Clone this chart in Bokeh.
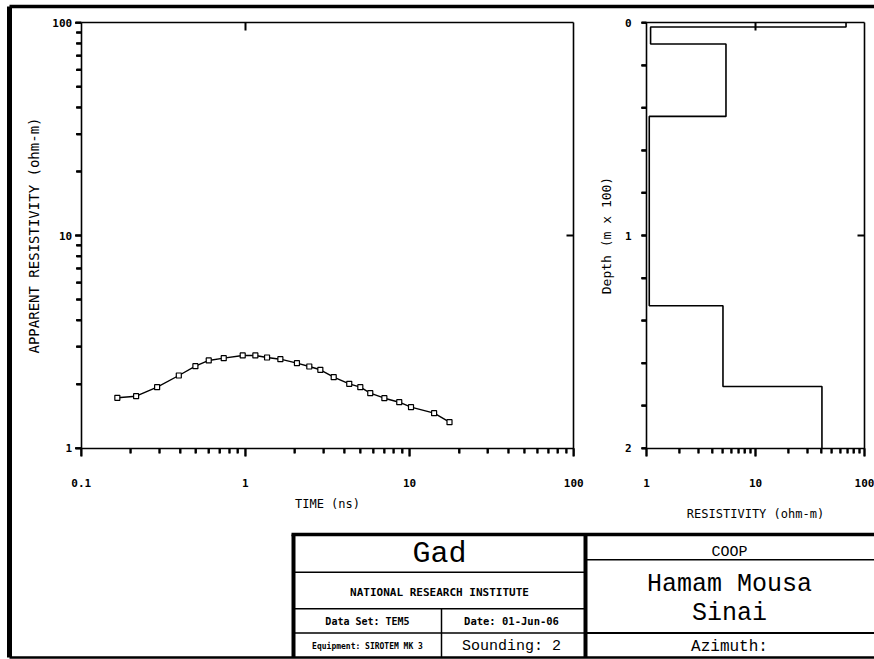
import math
from bokeh.plotting import figure
from bokeh.models import (Range1d, LogScale, LinearScale, LogAxis, LinearAxis,
                          FixedTicker, CustomJSTickFormatter)
from bokeh.core.properties import value
from bokeh.embed import file_html
from bokeh.resources import INLINE

# ---------------- data ----------------
# apparent resistivity sounding curve
time_ms = [0.166, 0.216, 0.290, 0.393, 0.496, 0.598, 0.738, 0.963, 1.15, 1.355,
           1.633, 2.06, 2.45, 2.86, 3.45, 4.29, 5.01, 5.76, 7.02, 8.65, 10.2,
           14.1, 17.5]
app_res = [1.726, 1.756, 1.936, 2.197, 2.430, 2.585, 2.650, 2.729, 2.729, 2.670,
           2.621, 2.510, 2.421, 2.337, 2.157, 2.008, 1.936, 1.814, 1.718, 1.645,
           1.559, 1.461, 1.325]

# layered model (resistivity in ohm-m, layer bottoms in m x 100)
layer_res = [67.7, 1.09, 5.36, 1.06, 5.03, 40.7]
layer_bottom = [0.02, 0.10, 0.44, 1.33, 1.71, 2.0]

# ticks
time_ticks = [0.1, 1, 10, 100]
time_tick_labels = ["0.1", "1", "10", "100"]
time_minor = [0.2, 0.3, 0.4, 0.5, 0.6, 0.7, 0.8, 0.9, 2, 3, 4, 5, 6, 7, 8, 9,
              20, 30, 40, 50, 60, 70, 80, 90]
res_ticks = [1, 10, 100]
res_tick_labels = ["1", "10", "100"]
res_minor = [2, 3, 4, 5, 6, 7, 8, 9, 20, 30, 40, 50, 60, 70, 80, 90]
depth_ticks = [0, 1, 2]
depth_tick_labels = ["0", "1", "2"]
depth_minor = [0.2, 0.4, 0.6, 0.8, 1.2, 1.4, 1.6, 1.8]

# title block texts
tb_texts = ["Gad", "NATIONAL RESEARCH INSTITUTE", "Data Set: TEM5", "Date: 01-Jun-06",
            "Equipment: SIROTEM MK 3", "Sounding: 2", "COOP", "Hamam Mousa",
            "Sinai", "Azimuth:"]

# ---------------- layout (screen pixels) ----------------
W, H = 874, 659
LX = ((80.7, 0.1), (573.3, 100.0))
LY = ((447.7, 1.0), (22.3, 100.0))
RX = ((646.0, 1.0), (864.0, 100.0))
RY = ((22.3, 0.0), (447.7, 2.0))


def log_at(a, b, p):
    (p0, v0), (p1, v1) = a, b
    l0, l1 = math.log10(v0), math.log10(v1)
    return 10 ** (l0 + (p - p0) * (l1 - l0) / (p1 - p0))


def lin_at(a, b, p):
    (p0, v0), (p1, v1) = a, b
    return v0 + (p - p0) * (v1 - v0) / (p1 - p0)


p = figure(width=W, height=H, x_range=Range1d(0, W), y_range=Range1d(H, 0),
           x_axis_type=None, y_axis_type=None, toolbar_location=None,
           output_backend="svg", min_border=0, outline_line_color=None)
p.extra_x_ranges = {"lx": Range1d(log_at(*LX, 0), log_at(*LX, W)),
                    "rx": Range1d(log_at(*RX, 0), log_at(*RX, W))}
p.extra_x_scales = {"lx": LogScale(), "rx": LogScale()}
p.extra_y_ranges = {"ly": Range1d(log_at(*LY, H), log_at(*LY, 0)),
                    "ry": Range1d(lin_at(*RY, H), lin_at(*RY, 0))}
p.extra_y_scales = {"ly": LogScale(), "ry": LinearScale()}

MONO = "DejaVu Sans Mono"


def fmt(ticks, labels):
    return CustomJSTickFormatter(args=dict(tv=ticks, lb=labels),
                                 code="const i = tv.indexOf(tick); return i >= 0 ? lb[i] : '';")


def style(ax, major_out=7, minor_out=5, major_in=0, standoff=4, label_standoff=6,
          label_size="13px"):
    ax.axis_line_width = 1.6
    ax.axis_line_color = "black"
    ax.major_tick_line_width = 2
    ax.major_tick_line_color = "black"
    ax.major_tick_out = major_out
    ax.major_tick_in = major_in
    ax.minor_tick_out = minor_out
    ax.minor_tick_in = 0
    ax.minor_tick_line_color = "black"
    ax.minor_tick_line_width = 2
    ax.major_label_text_font = MONO
    ax.major_label_text_font_size = "11px"
    ax.major_label_text_font_style = "bold"
    ax.major_label_text_color = "black"
    ax.major_label_standoff = standoff
    ax.axis_label_text_font = MONO
    ax.axis_label_text_font_size = label_size
    ax.axis_label_text_font_style = "normal"
    ax.axis_label_text_color = "black"
    ax.axis_label_standoff = label_standoff
    return ax


blank = CustomJSTickFormatter(code="return '';")

# ----- left plot axes -----
ax = LogAxis(x_range_name="lx", fixed_location=LY[0][0], bounds=(0.1, 100),
             ticker=FixedTicker(ticks=time_ticks, minor_ticks=time_minor),
             formatter=fmt(time_ticks, time_tick_labels), axis_label="TIME (ns)")
p.add_layout(style(ax, major_out=8, minor_out=5, standoff=23, label_standoff=6,
                   label_size="12px"), "below")

ax = LogAxis(y_range_name="ly", fixed_location=LX[0][0], bounds=(1, 100),
             ticker=FixedTicker(ticks=res_ticks, minor_ticks=res_minor),
             formatter=fmt(res_ticks, res_tick_labels),
             axis_label="APPARENT RESISTIVITY (ohm-m)")
p.add_layout(style(ax, major_out=6, minor_out=5, standoff=3, label_standoff=8,
                   label_size="14px"), "left")

ax = LogAxis(x_range_name="lx", fixed_location=LY[1][0], bounds=(0.1, 100),
             ticker=FixedTicker(ticks=[1], minor_ticks=[]), formatter=blank)
p.add_layout(style(ax, major_out=0, minor_out=0, major_in=8), "above")

ax = LogAxis(y_range_name="ly", fixed_location=LX[1][0], bounds=(1, 100),
             ticker=FixedTicker(ticks=[10], minor_ticks=[]), formatter=blank)
p.add_layout(style(ax, major_out=0, minor_out=0, major_in=7), "right")

# ----- right plot axes -----
ax = LogAxis(x_range_name="rx", fixed_location=RY[1][0], bounds=(1, 100),
             ticker=FixedTicker(ticks=res_ticks, minor_ticks=res_minor),
             formatter=fmt(res_ticks, res_tick_labels),
             axis_label="RESISTIVITY (ohm-m)")
p.add_layout(style(ax, major_out=8, minor_out=5, standoff=23, label_standoff=16,
                   label_size="12px"), "below")

ax = LinearAxis(y_range_name="ry", fixed_location=RX[0][0], bounds=(0, 2),
                ticker=FixedTicker(ticks=depth_ticks, minor_ticks=depth_minor),
                formatter=fmt(depth_ticks, depth_tick_labels),
                axis_label="Depth (m x 100)")
p.add_layout(style(ax, major_out=5, minor_out=5, standoff=10, label_standoff=8,
                   label_size="13px"), "left")

ax = LogAxis(x_range_name="rx", fixed_location=RY[0][0], bounds=(1, 100),
             ticker=FixedTicker(ticks=[10], minor_ticks=[]), formatter=blank)
p.add_layout(style(ax, major_out=0, minor_out=0, major_in=8), "above")

ax = LinearAxis(y_range_name="ry", fixed_location=RX[1][0], bounds=(0, 2),
                ticker=FixedTicker(ticks=[1], minor_ticks=[]), formatter=blank)
p.add_layout(style(ax, major_out=0, minor_out=0, major_in=7), "right")


# ----- outward tick marks, drawn on top (tick values through the plot scales) -----
def ticks_x(vals, rng, y, length):
    n = len(vals)
    p.segment(x0=vals, x1=vals, y0=[y] * n, y1=[y + length] * n, x_range_name=rng,
              line_color="black", line_width=1.8, level="overlay")


def ticks_y(vals, rng, x, length):
    n = len(vals)
    p.segment(y0=vals, y1=vals, x0=[x] * n, x1=[x - length] * n, y_range_name=rng,
              line_color="black", line_width=1.8, level="overlay")
    p.scatter(x=[x - length / 2] * n, y=vals, y_range_name=rng, marker="dash",
              size=length, line_color="black", line_width=1.8, level="overlay")


ticks_x(time_minor, "lx", LY[0][0], 5)
ticks_x(time_ticks, "lx", LY[0][0], 8)
ticks_y(res_minor, "ly", LX[0][0], 5)
ticks_y(res_ticks, "ly", LX[0][0], 6)
ticks_x(res_minor, "rx", RY[1][0], 5)
ticks_x(res_ticks, "rx", RY[1][0], 8)
ticks_y(depth_minor, "ry", RX[0][0], 5)
ticks_y(depth_ticks, "ry", RX[0][0], 5)

# ----- data glyphs -----
p.line(time_ms, app_res, x_range_name="lx", y_range_name="ly",
       line_color="black", line_width=1.4)
p.scatter(time_ms, app_res, x_range_name="lx", y_range_name="ly", marker="square",
          size=5, fill_color="white", line_color="black", line_width=1.2)

tops = [0.0] + layer_bottom[:-1]
step_x, step_y = [], []
for r, t, b in zip(layer_res, tops, layer_bottom):
    step_x += [r, r]
    step_y += [t, b]
p.line(step_x, step_y, x_range_name="rx", y_range_name="ry",
       line_color="black", line_width=1.6)

# ----- sheet frame and title block -----
frame_segs = [
    (9, 6, 9, 657, 5), (9, 6, 874, 6, 3.5), (9, 657, 874, 657, 2.5),
    (291, 534, 874, 534, 3.5), (293, 534, 293, 657, 4), (585, 534, 585, 657, 4),
    (293, 571.7, 585, 571.7, 1.5), (293, 608.3, 585, 608.3, 1.5),
    (293, 632.5, 585, 632.5, 1.5), (441, 608.3, 441, 657, 1.5),
    (585, 559.3, 874, 559.3, 1.5), (585, 632.5, 874, 632.5, 1.8),
]
p.segment(x0=[s[0] for s in frame_segs], y0=[s[1] for s in frame_segs],
          x1=[s[2] for s in frame_segs], y1=[s[3] for s in frame_segs],
          line_width=[s[4] for s in frame_segs], line_color="black")

THIN = "Liberation Mono"
tb_pos = [(439, 553), (439, 591.5), (367, 620.5), (511, 620.5), (367, 646),
          (511, 645.5), (729, 552), (729, 584), (729, 613), (729, 646)]
tb_font = [THIN, MONO, MONO, MONO, MONO, THIN, THIN, THIN, THIN, THIN]
tb_size = ["30px", "11px", "10px", "10.5px", "8px", "15px", "15px", "25px", "25px", "16px"]
tb_style = ["normal", "bold", "bold", "bold", "bold", "normal", "normal", "normal",
            "normal", "normal"]
for t, (x, y), f, s, st in zip(tb_texts, tb_pos, tb_font, tb_size, tb_style):
    p.text(x=[x], y=[y], text=[t], text_font=value(f), text_font_size=value(s),
           text_font_style=st, text_align="center", text_baseline="middle",
           text_color="black")

open("out.html", "w").write(file_html(p, INLINE))
